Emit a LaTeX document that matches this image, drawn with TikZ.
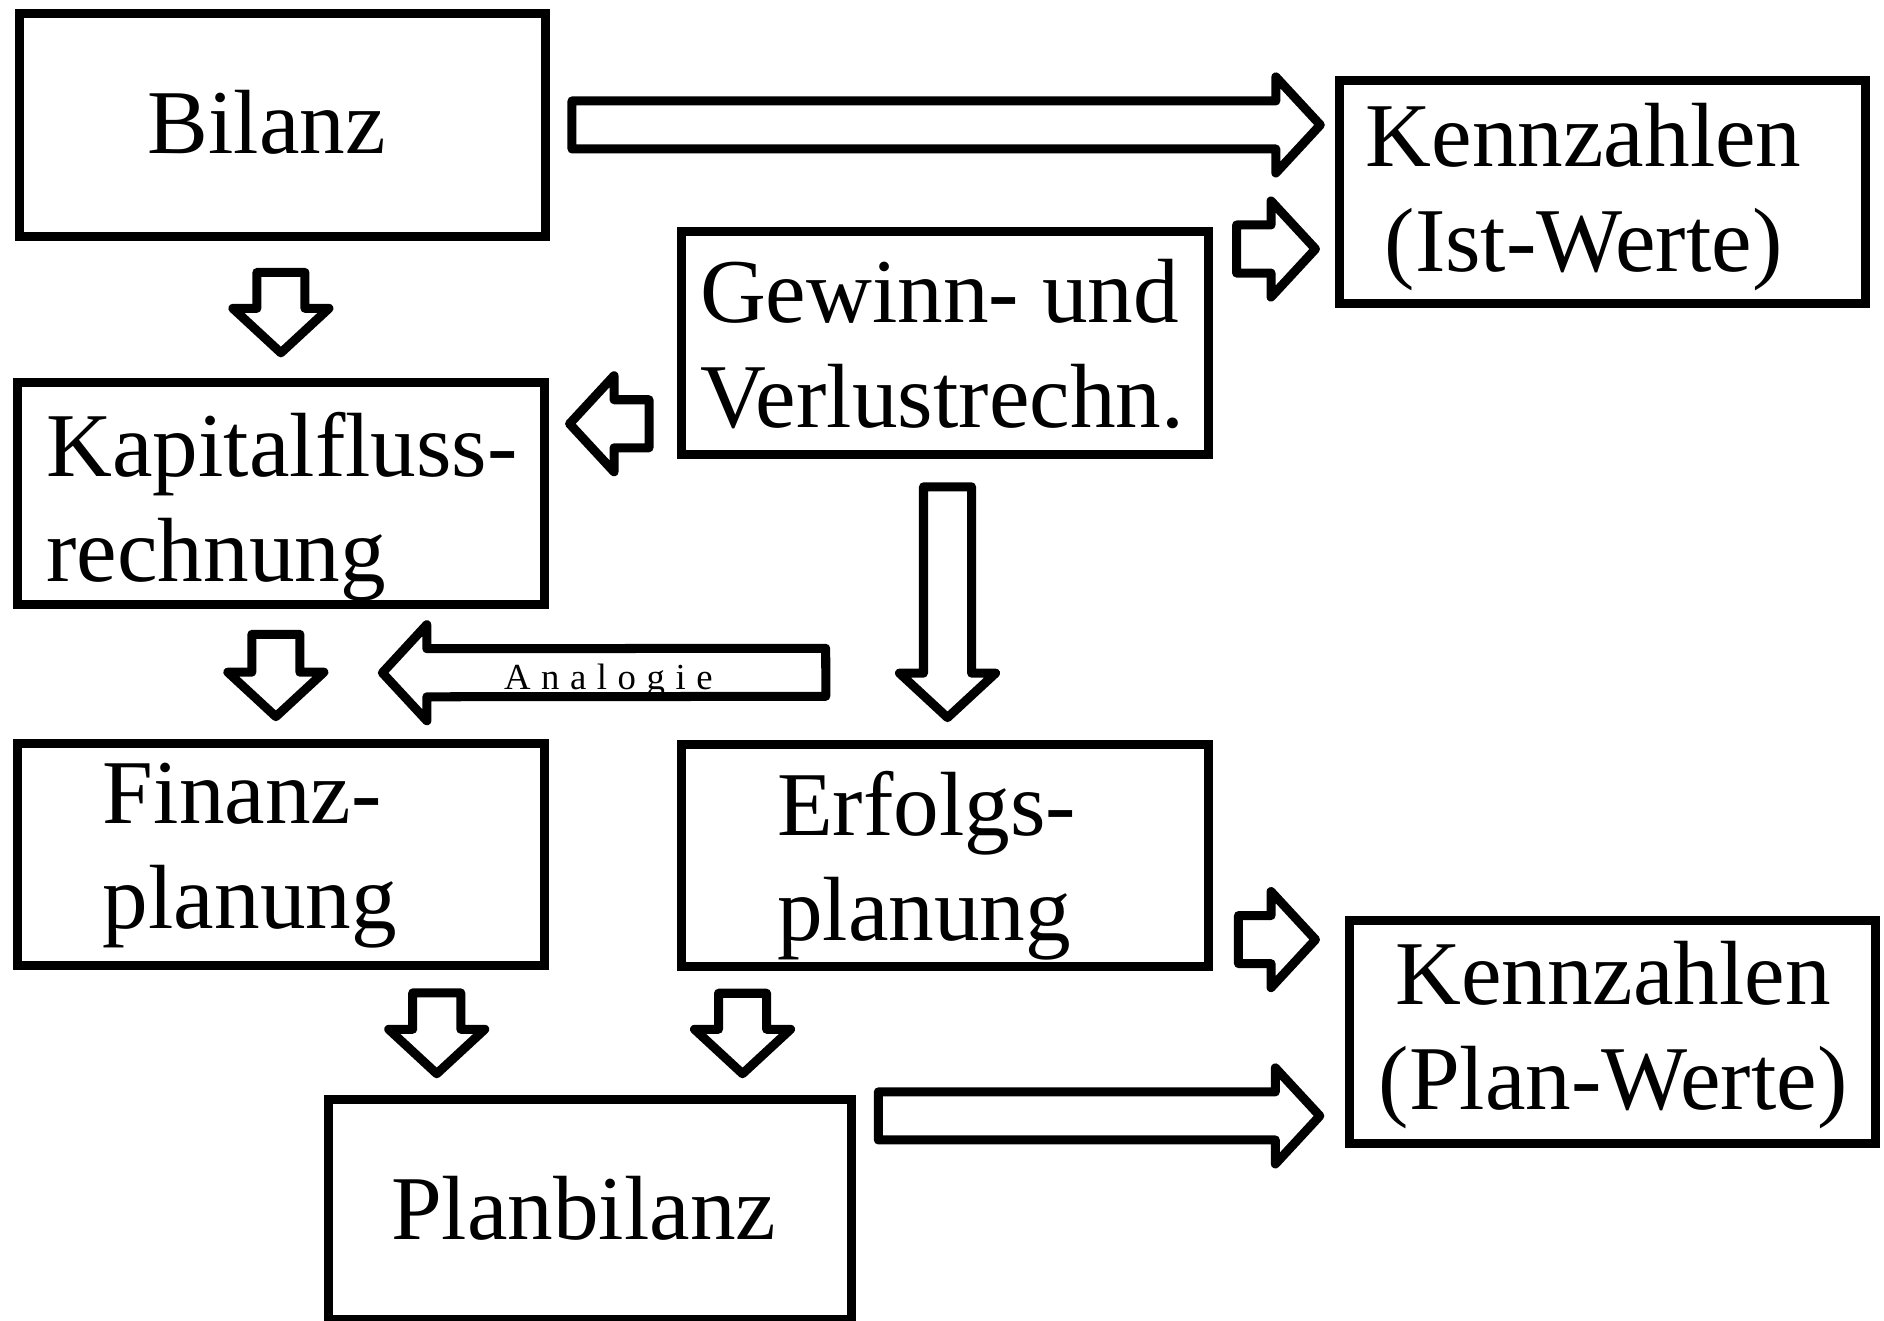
\documentclass[tikz,border=0pt]{standalone}
\usepackage{fontspec}
\setmainfont{Liberation Serif}
\usetikzlibrary{calc}
\tikzstyle{box} = [draw, line width=0.75mm, minimum width=43.8mm, minimum height=18.5mm, inner sep=0pt]
\tikzstyle{txt} = [inner sep=0pt, align=left, font=\fontsize{21.6}{24.8}\selectfont]
\tikzstyle{arrowline} = [line width=0.75mm, line join=round]
\def\shaftw{2mm}
\def\headw{4mm}
\def\headlen{3.7mm}
\def\lsp{\kern2.5pt}
\newcommand{\blockarrow}[2]{%
  \coordinate (bs) at #1;
  \coordinate (bt) at #2;
  \coordinate (bb) at ($(bt)!\headlen!(bs)$);
  \draw[arrowline] ($(bs)!\shaftw!90:(bt)$) -- ($(bb)!\shaftw!90:(bt)$) -- ($(bb)!\headw!90:(bt)$) -- (bt)
    -- ($(bb)!\headw!-90:(bt)$) -- ($(bb)!\shaftw!-90:(bt)$) -- ($(bs)!\shaftw!-90:(bt)$) -- cycle;
}

\begin{document}
\begin{tikzpicture}[x=0.1mm,y=-0.1mm]
      \useasboundingbox (0,0) rectangle (1568,1099);
      % boxes
      \node (bilanz) at (235.3,104) [box, minimum height=18.6mm] {};
      \node (kennist) at (1333.6,159.9) [box] {};
      \node (guv) at (786.4,285.5) [box] {};
      \node (kapital) at (233.8,410.9) [box] {};
      \node (finanz) at (233.8,711.4) [box] {};
      \node (erfolg) at (786.4,712.1) [box] {};
      \node (kennplan) at (1342.1,858.9) [box] {};
      \node (planbilanz) at (491,1006.5) [box, minimum width=43.55mm, minimum height=18.3mm] {};
      % texts
      \node (t-bilanz) at (222,127.9) [txt, anchor=base] {Bilanz};
      \node (t-kennist) at (1318,164) [txt, align=center] {Kennzahlen\\(Ist-Werte)};
      \node (t-guv) at (582,286.5) [txt, anchor=west] {Gewinn- und\\Verlustrechn.};
      \node (t-kapital) at (38,421.7) [txt, anchor=west] {Kapitalfluss-\\rechnung};
      \node (t-finanz) at (85,712.2) [txt, anchor=west] {Finanz-\\planung};
      \node (t-erfolg) at (646,720.7) [txt, anchor=west] {Erfolgs-\\planung};
      \node (t-kennplan) at (1342.5,861.2) [txt, align=center] {Kennzahlen\\(Plan-Werte)};
      \node (t-planbilanz) at (485.8,1031.4) [txt, anchor=base] {Planbilanz};
      % block arrows
      \blockarrow{($(bilanz.east)+(18,0)$)}{($(bilanz.east -| kennist.west)+(-12,0)$)}
      \blockarrow{($(guv.north east)+(20,18)$)}{($(kennist.west |- guv.north east)+(-16,18)$)}
      \blockarrow{($(bilanz.south -| kapital.north)+(0,26)$)}{($(kapital.north)+(0,-21)$)}
      \blockarrow{($(guv.west)+(-23.5,67.2)$)}{($(kapital.east |- guv.west)+(17.5,67.2)$)}
      \blockarrow{($(guv.south)+(2.2,23.4)$)}{($(erfolg.north)+(2.2,-18.6)$)}
      \blockarrow{($(kapital.south)+(-4.2,20.8)$)}{($(finanz.north)+(-4.2,-18.7)$)}
      \blockarrow{($(erfolg.north west)+(123.6,-56.3)$)}{($(finanz.north east)+(-138.3,-55.2)$)}
      \blockarrow{($(erfolg.east)+(21.6,69.9)$)}{($(kennplan.west |- erfolg.east)+(-24.5,69.9)$)}
      \blockarrow{($(finanz.south)+(129.7,18.7)$)}{($(planbilanz.north)+(-127.5,-17.6)$)}
      \blockarrow{($(erfolg.south)+(-168.4,18.3)$)}{($(planbilanz.north)+(127,-17.6)$)}
      \blockarrow{($(planbilanz.north east)+(18.5,17.5)$)}{($(kennplan.west |- planbilanz.north east)+(-20.9,17.5)$)}
      \node (analogie) at (506.3,573.7) [anchor=base, inner sep=0pt, font=\fontsize{8.7}{10}\selectfont] {A\lsp n\lsp a\lsp l\lsp o\lsp g\lsp i\lsp e};
\end{tikzpicture}
\end{document}
